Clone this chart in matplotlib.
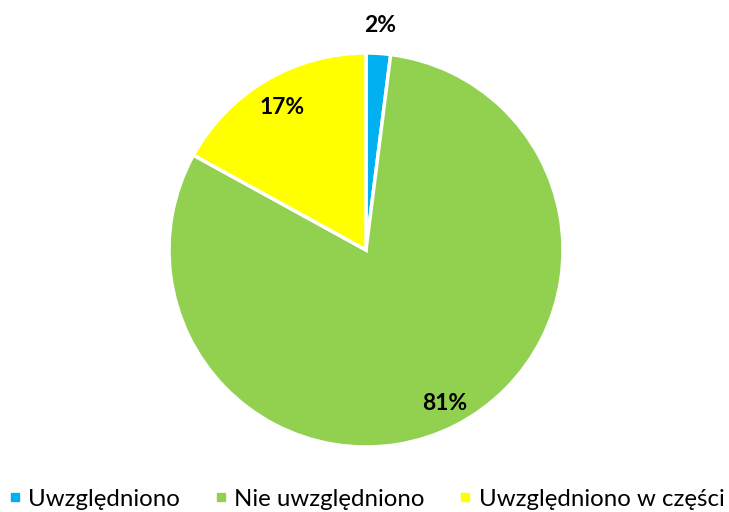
import numpy as np
import matplotlib
matplotlib.use("Agg")
import matplotlib.pyplot as plt
from matplotlib.lines import Line2D

categories = ["Uwzględniono", "Nie uwzględniono", "Uwzględniono w części"]
values = [2, 81, 17]
colors = ["#00B0F0", "#92D050", "#FFFF00"]
label_radius = [1.14, 0.875, 0.84]

plt.rcParams['font.family'] = ['Lato', 'DejaVu Sans']

fig = plt.figure(figsize=(7.29, 5.12), dpi=100)
W, H = 729, 512
cx, cy, r = 366, 250, 197
ax = fig.add_axes([(cx - r) / W, (H - cy - r) / H, 2 * r / W, 2 * r / H])
wedges, _ = ax.pie(values, colors=colors, startangle=90, counterclock=False,
                   radius=1, wedgeprops=dict(edgecolor="white", linewidth=2.5))
ax.set_xlim(-1, 1)
ax.set_ylim(-1, 1)
ax.set_aspect("equal")
ax.axis("off")

total = sum(values)
for w, v, lr in zip(wedges, values, label_radius):
    ang = np.deg2rad((w.theta1 + w.theta2) / 2)
    ax.text(lr * np.cos(ang), lr * np.sin(ang), f"{round(v / total * 100)}%",
            ha="center", va="center", fontsize=16.5, fontweight="bold",
            color="black", clip_on=False)

handles = [Line2D([0], [0], marker="s", linestyle="none", markersize=6,
                  markerfacecolor=c, markeredgecolor=c) for c in colors]
fig.legend(handles, categories, loc="lower center", ncol=3, frameon=False,
           fontsize=17.3, bbox_to_anchor=(0.503, -0.024), handletextpad=0.3,
           columnspacing=1.45, handlelength=0.5, borderaxespad=0.2)

fig.savefig("out.png", dpi=100)
